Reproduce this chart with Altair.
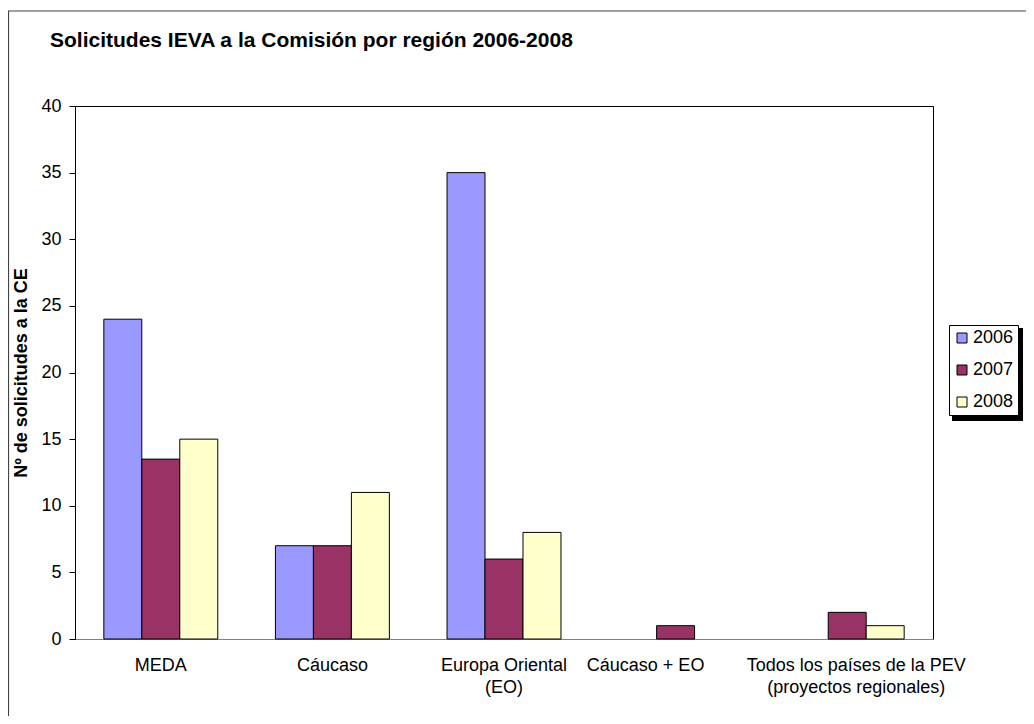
import altair as alt
import pandas as pd

regions = ["MEDA", "Cáucaso", "Europa Oriental\n(EO)", "Cáucaso + EO",
           "Todos los países de la PEV\n(proyectos regionales)"]
years = ["2006", "2007", "2008"]
v2006 = [24, 7, 35, 0, 0]
v2007 = [13.5, 7, 6, 1, 2]
v2008 = [15, 11, 8, 0, 1]
colors = ["#9999FF", "#993366", "#FFFFCC"]
title_text = "Solicitudes IEVA a la Comisión por región 2006-2008"
y_title = "Nº de solicitudes a la CE"

rows = []
for yr, vals in zip(years, [v2006, v2007, v2008]):
    for r, v in zip(regions, vals):
        if v > 0:
            rows.append({"region": r, "year": yr, "value": v})
df = pd.DataFrame(rows)

W, H = 858, 533
font = "Liberation Sans"

label_shift = {
    "condition": [
        {"test": "datum.value === 'Cáucaso + EO'", "value": -30},
        {"test": "slice(datum.value, 0, 5) === 'Todos'", "value": 9},
    ],
    "value": 0,
}

bars = alt.Chart(df).mark_bar(stroke="black", strokeWidth=1).encode(
    x=alt.X("region:N", sort=regions,
            scale=alt.Scale(domain=regions, paddingInner=0.336, paddingOuter=0.168),
            axis=alt.Axis(title=None, labelAngle=0, ticks=False, domainColor="#808080",
                          labelFontSize=18, labelColor="black", labelFont=font,
                          labelPadding=17, labelLineHeight=22, labelLimit=0,
                          labelOverlap=False, labelOffset=label_shift,
                          labelExpr="split(datum.label, '\\n')")),
    xOffset=alt.XOffset("year:N", scale=alt.Scale(domain=years, paddingInner=0, paddingOuter=0)),
    y=alt.Y("value:Q", scale=alt.Scale(domain=[0, 40]),
            axis=alt.Axis(values=list(range(0, 41, 5)), grid=False, tickSize=6,
                          tickColor="black", domainColor="black", labelFontSize=18,
                          labelColor="black", labelFont=font, labelPadding=8,
                          title=y_title, titleFontSize=18,
                          titleFont=font, titleColor="black", titleFontWeight="bold",
                          titlePadding=10)),
    color=alt.Color("year:N", scale=alt.Scale(domain=years, range=colors),
                    legend=alt.Legend(title=None, orient="none", legendX=874, legendY=219,
                                      fillColor="white", strokeColor="black", padding=4,
                                      symbolType="square", symbolSize=100,
                                      symbolStrokeColor="black", symbolStrokeWidth=1,
                                      labelFontSize=18, labelFont=font, labelColor="black",
                                      labelOffset=2, rowPadding=14, symbolOffset=0,
                                      labelLimit=0)),
)

one = pd.DataFrame({"a": [0]})
border = alt.Chart(one).mark_rect(fill=None, stroke="#444444", strokeWidth=1.2).encode(
    x=alt.value(-66.5), x2=alt.value(1100), y=alt.value(-95), y2=alt.value(800))

shadow = alt.Chart(one).mark_rect(fill="black").encode(
    x=alt.value(877), x2=alt.value(948), y=alt.value(222), y2=alt.value(315))

title = alt.Chart(one).mark_text(
    text=title_text, align="left", baseline="alphabetic", font=font,
    fontSize=21, fontWeight="bold", color="black"
).encode(x=alt.value(-25), y=alt.value(-59))

chart = alt.layer(border, shadow, title, bars).properties(
    width=W, height=H,
    padding={"left": 67, "top": 98, "right": 93, "bottom": 77},
    autosize=alt.AutoSizeParams(type="none"),
).configure_view(stroke="black", strokeWidth=1)

chart.save("out.html", embed_options={"renderer": "svg", "actions": False})
